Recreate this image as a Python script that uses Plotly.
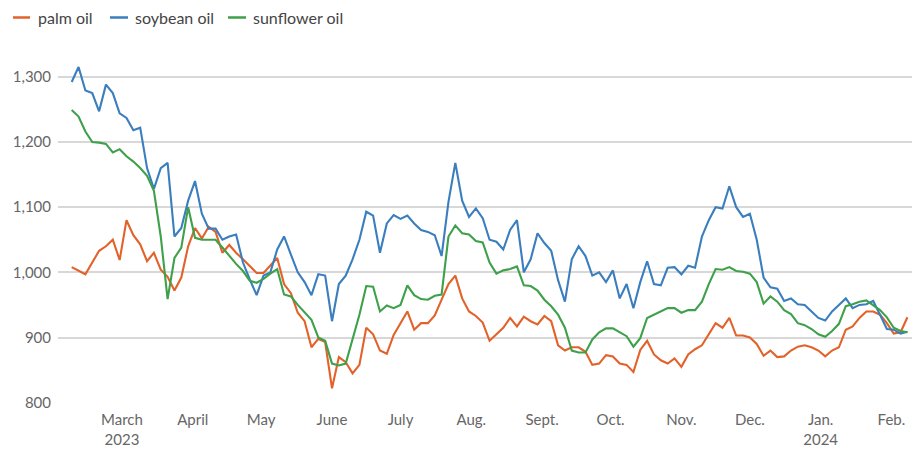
import pandas as pd
import plotly.graph_objects as go

# Prices sampled every three days, USD per tonne
dates = pd.date_range("2023-02-07", periods=123, freq="3D")

palm_oil = [
    1008, 1002, 997, 1015, 1033, 1040, 1050, 1019, 1080, 1057,
    1043, 1017, 1030, 1004, 993, 972, 992, 1040, 1068, 1052,
    1070, 1062, 1030, 1042, 1030, 1020, 1010, 999, 999, 1010,
    1022, 982, 968, 938, 925, 885, 898, 893, 822, 870,
    862, 845, 858, 915, 905, 880, 875, 904, 922, 940,
    912, 922, 922, 934, 958, 982, 995, 960, 940, 933,
    923, 895, 905, 915, 930, 917, 932, 925, 920, 933,
    925, 888, 880, 885, 885, 878, 858, 860, 873, 871,
    860, 858, 847, 881, 895, 874, 865, 860, 868, 855,
    874, 882, 888, 905, 922, 915, 930, 903, 903, 900,
    890, 872, 880, 870, 871, 880, 886, 888, 885, 880,
    871, 880, 885, 912, 917, 930, 940, 940, 935, 922,
    906, 908, 931,
]

soybean_oil = [
    1292, 1315, 1279, 1275, 1247, 1288, 1275, 1244, 1237, 1218,
    1222, 1160, 1128, 1160, 1168, 1055, 1068, 1110, 1140, 1090,
    1067, 1067, 1050, 1055, 1058, 1015, 989, 965, 995, 1000,
    1035, 1055, 1027, 1000, 985, 965, 997, 995, 925, 982,
    995, 1020, 1050, 1093, 1087, 1030, 1075, 1088, 1082, 1087,
    1075, 1065, 1062, 1057, 1025, 1108, 1168, 1110, 1085, 1098,
    1083, 1050, 1047, 1035, 1065, 1080, 1000, 1020, 1060, 1045,
    1033, 988, 955, 1020, 1040, 1025, 995, 1000, 985, 1003,
    960, 982, 945, 985, 1017, 982, 980, 1007, 1008, 997,
    1010, 1007, 1055, 1080, 1100, 1098, 1132, 1100, 1085, 1090,
    1050, 992, 977, 975, 956, 960, 951, 950, 940, 930,
    926, 940, 950, 960, 945, 950, 951, 956, 935, 913,
    912, 906, 909,
]

sunflower_oil = [
    1249, 1239, 1216, 1200, 1199, 1197, 1184, 1189, 1178, 1170,
    1160, 1148, 1125, 1055, 959, 1022, 1038, 1100, 1053, 1050,
    1050, 1050, 1038, 1025, 1013, 1002, 987, 984, 990, 998,
    1005, 966, 963, 950, 939, 927, 900, 895, 860, 857,
    860, 896, 935, 979, 978, 940, 949, 945, 950, 980,
    965, 959, 958, 964, 966, 1055, 1072, 1060, 1058, 1048,
    1046, 1015, 998, 1003, 1005, 1009, 980, 979, 972, 958,
    948, 935, 915, 880, 877, 877, 897, 908, 914, 914,
    908, 902, 886, 899, 930, 935, 940, 945, 945, 938,
    942, 942, 955, 982, 1005, 1004, 1008, 1002, 1001, 998,
    985, 952, 963, 955, 942, 936, 922, 919, 913, 905,
    901, 910, 921, 948, 951, 955, 957, 950, 942, 931,
    915, 910, 908,
]

series_names = ["palm oil", "soybean oil", "sunflower oil"]
series_colors = ["#e2622a", "#3a7ebe", "#3ea04b"]

tick_dates = pd.date_range("2023-03-01", "2024-02-01", freq="MS")
tick_text = ["March<br>2023", "April", "May", "June", "July", "Aug.",
             "Sept.", "Oct.", "Nov.", "Dec.", "Jan.<br>2024", "Feb."]
y_ticks = [800, 900, 1000, 1100, 1200, 1300]

W, H = 918, 454
M = dict(l=58, r=6, t=60, b=47)
FONT = "Lato, 'Open Sans', sans-serif"

fig = go.Figure()
for name, color, values in zip(series_names,
                               series_colors,
                               [palm_oil, soybean_oil, sunflower_oil]):
    fig.add_trace(go.Scatter(
        x=dates, y=values, name=name, mode="lines",
        line=dict(color=color, width=2.1), showlegend=False,
    ))


def paper_x(px):
    return (px - M["l"]) / (W - M["l"] - M["r"])


def paper_y(py):
    return (H - M["b"] - py) / (H - M["t"] - M["b"])


# Hand-built legend along the top edge
legend_y = 17
legend_lines = [(13, 30), (110, 128), (228, 246)]
legend_text_x = [36, 133, 251]
shapes = []
annotations = []
for (x0, x1), tx, name, color in zip(legend_lines, legend_text_x,
                                     series_names, series_colors):
    shapes.append(dict(type="line", xref="paper", yref="paper",
                       x0=paper_x(x0), x1=paper_x(x1),
                       y0=paper_y(legend_y), y1=paper_y(legend_y),
                       line=dict(color=color, width=2.5)))
    annotations.append(dict(xref="paper", yref="paper",
                            x=paper_x(tx), y=paper_y(legend_y),
                            xanchor="left", yanchor="middle",
                            text=name, showarrow=False,
                            font=dict(family=FONT, size=16, color="#444444")))

fig.update_layout(
    width=W, height=H, margin=M,
    paper_bgcolor="white", plot_bgcolor="white",
    font=dict(family=FONT, size=15, color="#666666"),
    shapes=shapes, annotations=annotations,
    xaxis=dict(
        range=["2023-02-01", "2024-02-10"],
        tickvals=tick_dates, ticktext=tick_text,
        showgrid=False, showline=False, zeroline=False,
        ticks="", ticklabelstandoff=6,
        tickfont=dict(family=FONT, size=15, color="#666666"),
    ),
    yaxis=dict(
        range=[799.5, 1325.8],
        tickvals=y_ticks, tickformat=",",
        showgrid=True, gridcolor="#d8d8d8", gridwidth=1.5,
        showline=False, zeroline=False,
        ticks="", ticklabelstandoff=6,
        tickfont=dict(family=FONT, size=15, color="#666666"),
    ),
)

fig.write_html("out.html")
